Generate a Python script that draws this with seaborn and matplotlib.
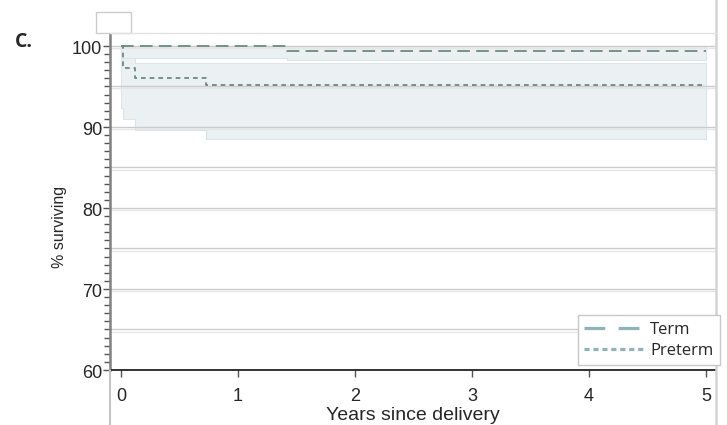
import matplotlib
matplotlib.use("Agg")
import matplotlib.pyplot as plt
from matplotlib.lines import Line2D
from matplotlib.patches import Rectangle
from matplotlib.transforms import ScaledTranslation
import numpy as np
import pandas as pd
import seaborn as sns

# Kaplan-Meier style survival estimates (% surviving) by delivery group
term_t = [0.0, 1.42, 5.0]
term_s = [100.0, 99.4, 99.4]
term_lo = [98.5, 98.3, 98.3]
term_hi = [100.0, 100.0, 100.0]

preterm_t = [0.0, 0.02, 0.12, 0.73, 5.0]
preterm_s = [100.0, 97.3, 96.0, 95.2, 95.2]
preterm_lo = [92.4, 91.0, 89.6, 88.5, 88.5]
preterm_hi = [100.0, 99.5, 97.9, 97.9, 97.9]

groups = ["Term", "Preterm"]
x_ticks = [0, 1, 2, 3, 4, 5]
y_ticks = [60, 70, 80, 90, 100]

df = pd.concat([
    pd.DataFrame({"years": term_t, "surv": term_s, "group": "Term"}),
    pd.DataFrame({"years": preterm_t, "surv": preterm_s, "group": "Preterm"}),
], ignore_index=True)

sns.set_theme(style="white")
plt.rcParams["font.family"] = ["Liberation Sans", "DejaVu Sans"]

W, H = 727, 425
fig = plt.figure(figsize=(W / 100, H / 100), dpi=100)
ax = fig.add_axes([110 / W, 1 - 370 / H, (716 - 110) / W, (370 - 33) / H])

band_col = "#ebf0f2"
band_edge = "#dde4e7"
line_col = "#6b8a80"

# confidence bands
ax.fill_between(preterm_t, preterm_lo, preterm_hi, step="post",
                facecolor=band_col, edgecolor=band_edge, lw=0.8, zorder=1)
ax.fill_between(term_t, term_lo, term_hi, step="post",
                facecolor=band_col, edgecolor=band_edge, lw=0.8, zorder=1)

# horizontal reference lines every 5 %
for v in range(65, 101, 5):
    ax.axhline(v, color="#cccccc", lw=1.0, zorder=2)
    ax.axhline(v - 0.25, color="#e6e6e6", lw=1.0, zorder=2)

sns.lineplot(data=df, x="years", y="surv", hue="group", style="group",
             hue_order=groups, style_order=groups,
             palette={"Term": line_col, "Preterm": line_col},
             dashes={"Term": (7, 3.5), "Preterm": (2.6, 2.2)},
             drawstyle="steps-post", estimator=None, lw=1.3,
             legend=False, ax=ax, zorder=3)

ax.set_xlim(-0.094, 5.085)
ax.set_ylim(60, 101.6)
ax.set_xticks(x_ticks)
ax.set_yticks(y_ticks)
ax.set_yticks(np.arange(60, 101, 1), minor=True)
ax.tick_params(axis="y", which="major", direction="out", length=5, width=1.0,
               color="#555555", labelsize=13, pad=0.5, left=True)
ax.tick_params(axis="y", which="minor", direction="out", length=4, width=1.0,
               color="#555555", left=True)
ax.tick_params(axis="x", which="major", direction="out", length=5, width=1.0,
               color="#555555", labelsize=13, pad=8, bottom=True)
# y labels sit slightly below their ticks
for lab in ax.get_yticklabels():
    lab.set_transform(lab.get_transform() +
                      ScaledTranslation(0, -2 / 100, fig.dpi_scale_trans))

ax.set_xlabel("Years since delivery", fontsize=14, labelpad=1.5)
ax.set_ylabel("% surviving", fontsize=11.5)
ax.yaxis.set_label_coords(-0.071, 0.425)

for s in ["top", "right"]:
    ax.spines[s].set_visible(False)
ax.spines["left"].set_color("#808080")
ax.spines["left"].set_linewidth(1.8)
ax.spines["bottom"].set_color("#111111")
ax.spines["bottom"].set_linewidth(1.2)

# panel frame pieces around the plot
def px_line(x0, y0, x1, y1, **kw):
    fig.add_artist(Line2D([x0 / W, x1 / W], [1 - y0 / H, 1 - y1 / H],
                          transform=fig.transFigure, **kw))

px_line(110, 370, 110, 425, color="#c4c4c4", lw=1.5)
px_line(716, 0, 716, 425, color="#d4d4d4", lw=1.8)
px_line(110, 33, 716, 33, color="#e4e4e4", lw=1.0)
fig.add_artist(Rectangle((96 / W, 1 - 33 / H), 35 / W, 21 / H,
                         transform=fig.transFigure, facecolor="white",
                         edgecolor="#cccccc", lw=1.0))

fig.text(15 / W, 1 - 42 / H, "C.", fontsize=14, fontweight="bold",
         family=["Open Sans", "DejaVu Sans"], va="center", ha="left")

leg_col = "#8fb3bb"
handles = [
    Line2D([], [], color=leg_col, lw=2.3, dashes=(6.5, 4.2)),
    Line2D([], [], color=leg_col, lw=2.3, dashes=(1.6, 1.2)),
]
leg = fig.legend(handles, groups, loc="upper right",
                 bbox_to_anchor=(720 / W, 1 - 315 / H), borderaxespad=0,
                 frameon=True, fancybox=False, framealpha=1,
                 edgecolor="#c8c8c8", handlelength=3.5, handletextpad=0.45,
                 labelspacing=0.3, borderpad=0.4,
                 prop={"family": "Open Sans", "size": 12})
leg.get_frame().set_linewidth(1.0)

fig.savefig("out.png", dpi=100)
